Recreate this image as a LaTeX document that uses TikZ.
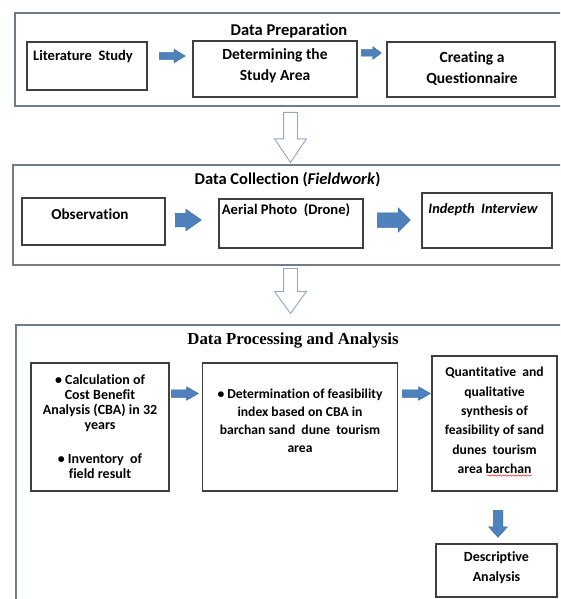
\documentclass[tikz,border=0pt]{standalone}
\usepackage{fontspec}
\setmainfont{Carlito}[Ligatures={NoCommon}]
\newfontfamily\timesfont{Liberation Serif}
\usetikzlibrary{shapes.arrows,decorations.pathmorphing}
\definecolor{arrowblue}{HTML}{4F81BD}
\definecolor{arrowedge}{HTML}{3A6BA5}
\definecolor{hollowedge}{HTML}{8EA6C8}
\definecolor{outerline}{HTML}{6E7C8C}
\definecolor{innerline}{HTML}{3F3F3F}
\begin{document}
\begin{tikzpicture}[x=1pt,y=-1pt,
  outerbox/.style={draw=outerline, line width=1.1pt, inner sep=0pt},
  innerbox/.style={draw=innerline, line width=1.1pt, fill=white, inner sep=0pt},
  blk/.style={single arrow, draw=arrowedge, fill=arrowblue, line width=0.5pt, inner xsep=0pt, anchor=tail},
  hollow/.style={single arrow, draw=hollowedge, fill=white, line width=0.9pt, inner xsep=0pt, anchor=tail, rotate=-90},
  lbl/.style={align=center, inner sep=0pt, text=black},
  squiggle/.style={draw=red, line width=0.4pt, decorate, decoration={snake, amplitude=0.7pt, segment length=2.5pt}},
]
\useasboundingbox (0,0) rectangle (560,599);
\fill[white] (0,0) rectangle (560,599);
\clip (0,0) rectangle (560,599);

% ---------- Data Preparation ----------
\node[outerbox, minimum width=585pt, minimum height=93pt] (outerA) at (307.5,59.5) {};
\node[lbl, font=\bfseries\fontsize{16.5}{19}\selectfont] (titleA) at (289,31) {Data Preparation};
\node[innerbox, minimum width=120pt, minimum height=48pt] (lit) at (87,66) {};
\node[innerbox, minimum width=164pt, minimum height=56pt] (det) at (275,69) {};
\node[innerbox, minimum width=168pt, minimum height=55pt] (cre) at (471,69.5) {};
\node[lbl, font=\bfseries\fontsize{14.5}{16}\selectfont] (litT) at (83,57) {Literature\ \ Study};
\node[lbl, font=\bfseries\fontsize{15.5}{20.5}\selectfont] (detT) at (275,66) {Determining the\\Study Area};
\node[lbl, font=\bfseries\fontsize{15.5}{21}\selectfont] (creT) at (472,68.5) {Creating a\\Questionnaire};
\node[blk, minimum height=26pt, minimum width=13pt, inner ysep=3.2pt, single arrow head extend=3.3pt, single arrow tip angle=62] (a1) at (159,56) {};
\node[blk, minimum height=20pt, minimum width=12pt, inner ysep=3pt, single arrow head extend=3pt, single arrow tip angle=74] (a2) at (361,53) {};

% ---------- hollow arrow 1 ----------
\node[hollow, minimum height=50pt, minimum width=31pt, inner ysep=6.5pt, single arrow head extend=9pt, single arrow tip angle=68] (h1) at (290.5,112) {};

% ---------- Data Collection ----------
\node[outerbox, minimum width=587pt, minimum height=100pt] (outerB) at (306.5,215) {};
\node[lbl, font=\bfseries\fontsize{16.5}{19}\selectfont] (titleB) at (287.5,180) {Data Collection (\textit{Fieldwork})};
\node[innerbox, minimum width=143pt, minimum height=47pt] (obs) at (93.5,221.5) {};
\node[innerbox, minimum width=144pt, minimum height=49pt] (aer) at (291,223.5) {};
\node[innerbox, minimum width=130pt, minimum height=55pt] (ind) at (487,220.5) {};
\node[lbl, font=\bfseries\fontsize{15.2}{17}\selectfont] (obsT) at (90,214) {Observation};
\node[lbl, font=\bfseries\fontsize{14.6}{17}\selectfont] (aerT) at (286,210) {Aerial Photo\ \ (Drone)};
\node[lbl, font=\bfseries\itshape\fontsize{14.4}{17}\selectfont] (indT) at (483,210) {Indepth\ \ Interview};
\node[blk, minimum height=26pt, minimum width=21pt, inner ysep=6.5pt, single arrow head extend=4pt, single arrow tip angle=70] (b1) at (175,220) {};
\node[blk, minimum height=33pt, minimum width=24pt, inner ysep=7pt, single arrow head extend=5pt, single arrow tip angle=90] (b2) at (377,220) {};

% ---------- hollow arrow 2 ----------
\node[hollow, minimum height=45pt, minimum width=31pt, inner ysep=6.5pt, single arrow head extend=9pt, single arrow tip angle=72] (h2) at (290.5,268) {};

% ---------- Data Processing and Analysis ----------
\node[outerbox, minimum width=584pt, minimum height=315pt] (outerC) at (308,482.5) {};
\node[lbl, font=\timesfont\bfseries\fontsize{16.8}{19}\selectfont] (titleC) at (293,341) {Data Processing and Analysis};
\node[innerbox, minimum width=138pt, minimum height=128pt] (cba) at (100,427) {};
\node[innerbox, minimum width=195pt, minimum height=128pt] (fea) at (300,427) {};
\node[innerbox, minimum width=125pt, minimum height=135pt] (syn) at (494.5,423.5) {};
\node[innerbox, minimum width=121pt, minimum height=53pt] (des) at (496.5,570.5) {};
\node[lbl, font=\bfseries\fontsize{14}{14.8}\selectfont] (cbaT) at (100,403) {•~Calculation of\\Cost Benefit\\Analysis (CBA) in 32\\years};
\node[lbl, font=\bfseries\fontsize{14}{15.5}\selectfont] (invT) at (100,466) {•~Inventory\ \ of\\field result};
\node[lbl, font=\bfseries\fontsize{13.6}{18.3}\selectfont] (feaT) at (300,420.75) {•~Determination of feasibility\\index based on CBA in\\barchan sand\ \ dune\ \ tourism\\area};
\node[lbl, font=\bfseries\fontsize{13.6}{19.4}\selectfont] (synT) at (494.5,420.5) {Quantitative\ \ and\\qualitative\\synthesis of\\feasibility of sand\\dunes\ \ tourism\\area barchan};
\node[lbl, font=\bfseries\fontsize{14}{20}\selectfont] (desT) at (496.5,568) {Descriptive\\Analysis};
\node[blk, minimum height=27pt, minimum width=13pt, inner ysep=3.5pt, single arrow head extend=3pt, single arrow tip angle=60] (c1) at (171,393.5) {};
\node[blk, minimum height=28pt, minimum width=13pt, inner ysep=3.5pt, single arrow head extend=3pt, single arrow tip angle=60] (c2) at (402,393.5) {};
\node[blk, rotate=-90, minimum height=27pt, minimum width=18pt, inner ysep=4.5pt, single arrow head extend=4.5pt, single arrow tip angle=84] (d1) at (498,510) {};
\coordinate (sqA) at (487,475.5);
\coordinate (sqB) at (532,475.5);
\draw[squiggle] (sqA) -- (sqB);
\end{tikzpicture}
\end{document}
